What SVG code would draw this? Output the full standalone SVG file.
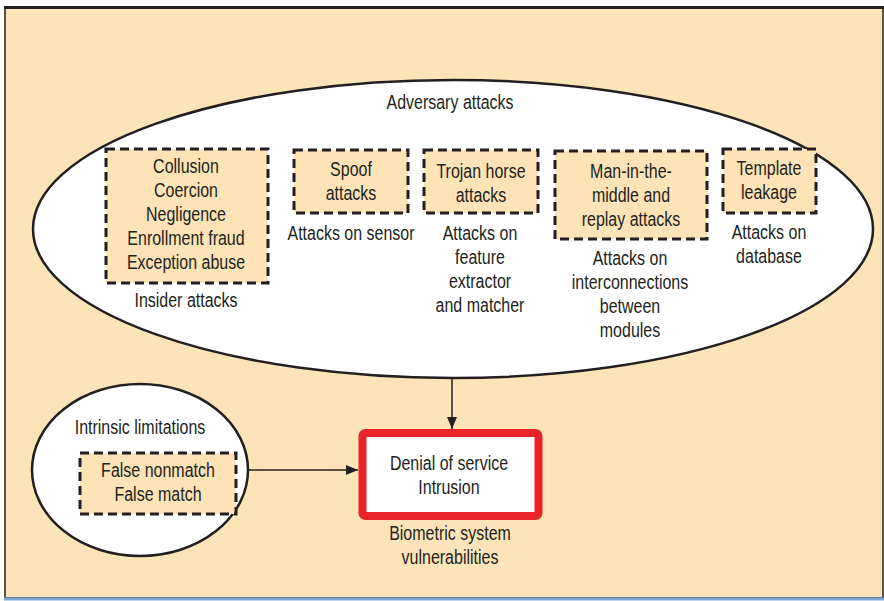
<svg xmlns="http://www.w3.org/2000/svg" width="884" height="601" viewBox="0 0 884 601">
<defs>
<marker id="ah" markerWidth="12" markerHeight="10" refX="12" refY="5" orient="auto" markerUnits="userSpaceOnUse">
<path d="M0,0 L12,5 L0,10 Z" fill="#231f20"/>
</marker>
<style>
text{font-family:"Liberation Sans",Arial,sans-serif;font-size:19.5px;fill:#231f20;text-anchor:middle;transform-box:fill-box;transform-origin:center;transform:scaleX(0.82)}
.dash{fill:#fde3b6;stroke:#231f20;stroke-width:3;stroke-dasharray:9,5}
.ell{fill:#ffffff;stroke:#231f20;stroke-width:2.5}
.conn{stroke:#231f20;stroke-width:1.5;fill:none}
</style>
</defs>
<rect x="0" y="0" width="884" height="601" fill="#ffffff"/>
<rect x="5" y="8" width="878" height="590" fill="#fde4b8" stroke="#231f20" stroke-width="1.5"/>
<line x1="4" y1="7.5" x2="884" y2="7.5" stroke="#231f20" stroke-width="3"/>
<line x1="4" y1="599" x2="884" y2="599" stroke="#7aa7d6" stroke-width="3"/>

<g id="adversary">
<ellipse class="ell" cx="453" cy="229" rx="420" ry="149"/>
<text x="450" y="109">Adversary attacks</text>
</g>
<g id="insider">
<rect class="dash" x="106" y="149" width="162" height="134"/>
<text x="186" y="173">Collusion</text>
<text x="186" y="197">Coercion</text>
<text x="186" y="221">Negligence</text>
<text x="186" y="245">Enrollment fraud</text>
<text x="186" y="269">Exception abuse</text>
<text x="186" y="307">Insider attacks</text>
</g>
<g id="spoof">
<rect class="dash" x="294" y="150" width="114" height="63"/>
<text x="351" y="176">Spoof</text>
<text x="351" y="200">attacks</text>
<text x="351" y="240">Attacks on sensor</text>
</g>
<g id="trojan">
<rect class="dash" x="424" y="150" width="114" height="63"/>
<text x="481" y="178">Trojan horse</text>
<text x="481" y="202">attacks</text>
<text x="480" y="240">Attacks on</text>
<text x="480" y="264">feature</text>
<text x="480" y="288">extractor</text>
<text x="480" y="312">and matcher</text>
</g>
<g id="mitm">
<rect class="dash" x="555" y="151" width="152" height="88"/>
<text x="631" y="178">Man-in-the-</text>
<text x="631" y="202">middle and</text>
<text x="631" y="226">replay attacks</text>
<text x="630" y="265">Attacks on</text>
<text x="630" y="289">interconnections</text>
<text x="630" y="313">between</text>
<text x="630" y="337">modules</text>
</g>
<g id="template">
<rect class="dash" x="723" y="149" width="93" height="64"/>
<text x="769" y="175">Template</text>
<text x="769" y="199">leakage</text>
<text x="769" y="239">Attacks on</text>
<text x="769" y="263">database</text>
</g>
<g id="intrinsic">
<ellipse class="ell" cx="140" cy="470" rx="108" ry="86"/>
<text x="140" y="434">Intrinsic limitations</text>
<rect class="dash" x="80" y="453" width="156" height="61"/>
<text x="158" y="477">False nonmatch</text>
<text x="158" y="501">False match</text>
</g>
<g id="vulnerabilities">
<rect x="362.5" y="433" width="176" height="83" rx="3" fill="#ffffff" stroke="#e8232a" stroke-width="8"/>
<text x="449" y="470">Denial of service</text>
<text x="449" y="494">Intrusion</text>
<text x="450" y="540">Biometric system</text>
<text x="450" y="564">vulnerabilities</text>
</g>
<g id="connectors">
<line class="conn" x1="452" y1="378" x2="452" y2="429" marker-end="url(#ah)"/>
<line class="conn" x1="248" y1="470" x2="358" y2="470" marker-end="url(#ah)"/>
</g>
</svg>
